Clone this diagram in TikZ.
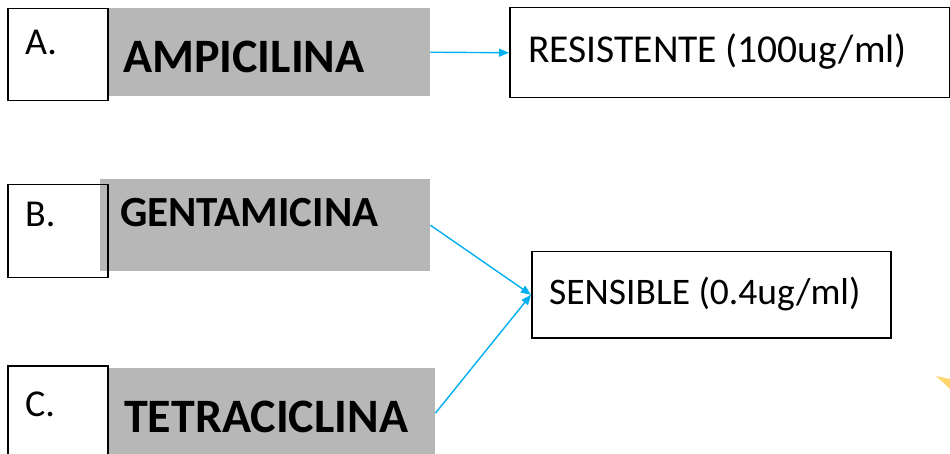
\documentclass[tikz,border=0pt]{standalone}
\usepackage{fontspec}
\setmainfont{Carlito}
\usetikzlibrary{arrows.meta, positioning}
\definecolor{cinza}{RGB}{183,183,183}
\definecolor{ciano}{RGB}{0,176,240}
\definecolor{amarelo}{RGB}{255,214,110}
\tikzset{
    letra/.style={rectangle, draw=black, line width=1.5pt, anchor=north west, inner sep=0pt, minimum width=100pt},
    farmaco/.style={rectangle, fill=cinza, anchor=north west, inner sep=0pt},
    resultado/.style={rectangle, draw=black, line width=1.5pt, anchor=north west, inner sep=0pt},
    txt_letra/.style={anchor=base west, inner sep=0pt, font=\fontsize{38}{44}\selectfont},
    txt_farmaco/.style={anchor=base west, inner sep=0pt, font=\bfseries\fontsize{48}{56}\selectfont},
    txt_res/.style={anchor=base west, inner sep=0pt, font=\fontsize{39.5}{46}\selectfont},
    seta/.style={draw=ciano, line width=1.4pt, -{Triangle[length=10pt, width=8pt]}}
}
\begin{document}
\begin{tikzpicture}[x=1pt, y=-1pt]
        \useasboundingbox (0,0) rectangle (950,454);

        % Faixas cinzentas dos antibioticos
        \node (g_amp) [farmaco, minimum width=323pt, minimum height=88pt] at (107,8) {};
        \node (g_gen) [farmaco, minimum width=330pt, minimum height=92pt] at (100,179) {};
        \node (g_tet) [farmaco, minimum width=328pt, minimum height=90pt] at (107,368) {};

        % Caixas das letras
        \node (l_a) [letra, minimum height=92pt] at (7,8) {};
        \node (l_b) [letra, minimum height=93pt] at (7,184) {};
        \node (l_c) [letra, minimum height=100pt] at (7,365) {};

        % Caixas de resultado
        \node (resist) [resultado, minimum width=440pt, minimum height=90pt] at (509,7) {};
        \node (sensib) [resultado, minimum width=359pt, minimum height=86pt] at (531,251) {};

        % Textos
        \node (t_a) [txt_letra] at (25,55) {A.};
        \node (t_b) [txt_letra] at (25,227) {B.};
        \node (t_c) [txt_letra] at (25,416) {C.};
        \node (t_amp) [txt_farmaco] at (123,73) {AMPICILINA};
        \node (t_gen) [txt_farmaco, font=\bfseries\fontsize{43}{50}\selectfont] at (120,227) {GENTAMICINA};
        \node (t_tet) [txt_farmaco] at (124,432) {TETRACICLINA};
        \node (t_res) [txt_res] at (528,63) {RESISTENTE (100ug/ml)};
        \node (t_sen) [txt_res, font=\fontsize{37.5}{44}\selectfont] at (549,305) {SENSIBLE (0.4ug/ml)};

        % Setas
        \draw [seta] (g_amp.east) -- (resist.west);
        \draw [seta] (g_gen.east) -- (sensib.west);
        \draw [seta] (g_tet.east) -- (sensib.west);

        % Detalhe amarelo no canto
        \fill [amarelo] (936,376) -- (950,379) -- (950,389) -- cycle;

    \end{tikzpicture}
\end{document}
